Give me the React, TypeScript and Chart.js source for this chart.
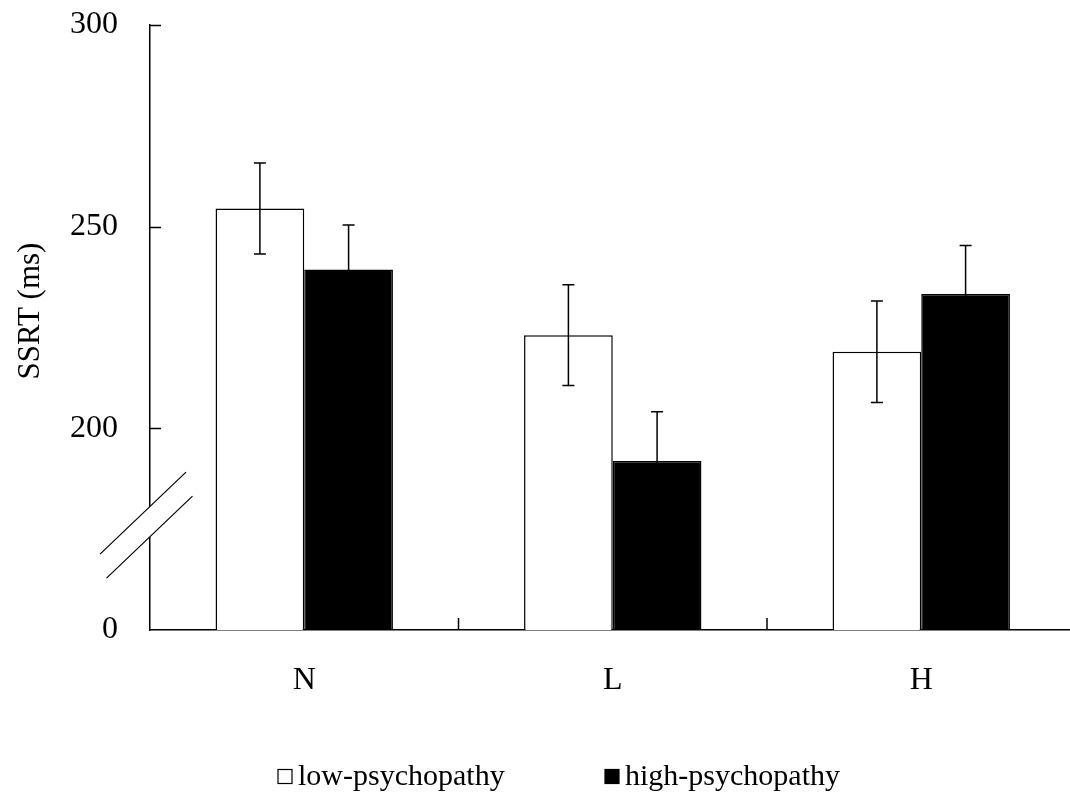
import React, { useEffect, useRef } from "react";
import { Chart, registerables } from "chart.js";

Chart.register(...registerables);

// ---- data ----
const categories = ["N", "L", "H"];
const seriesLabels = ["low-psychopathy", "high-psychopathy"];
const lowValues = [254.5, 223.1, 219.0];
const highValues = [239.4, 191.9, 233.3];
const lowErrors = [11.3, 12.5, 12.6];
const highErrors = [11.0, 12.2, 12.0];
const yTickValues = [150, 200, 250, 300];
const yTickLabels = ["0", "200", "250", "300"];
const yAxisTitle = "SSRT (ms)";
const breakValue = 176;

const FONT = "'Liberation Serif', 'Times New Roman', serif";

const errorBarPlugin = {
  id: "errorBars",
  afterDatasetsDraw(chart: any) {
    const ctx = chart.ctx;
    const y = chart.scales.y;
    const errs = [lowErrors, highErrors];
    ctx.save();
    ctx.strokeStyle = "#000";
    ctx.lineWidth = 1.5;
    chart.data.datasets.forEach((ds: any, di: number) => {
      const meta = chart.getDatasetMeta(di);
      meta.data.forEach((bar: any, i: number) => {
        const v = ds.data[i];
        const e = errs[di][i];
        const yt = y.getPixelForValue(v + e);
        const yb = y.getPixelForValue(v - e);
        const x = bar.x;
        ctx.beginPath();
        ctx.moveTo(x, yt);
        ctx.lineTo(x, yb);
        ctx.moveTo(x - 6, yt);
        ctx.lineTo(x + 6, yt);
        ctx.moveTo(x - 6, yb);
        ctx.lineTo(x + 6, yb);
        ctx.stroke();
      });
    });
    ctx.restore();
  },
};

const decorPlugin = {
  id: "decor",
  afterDraw(chart: any) {
    const ctx = chart.ctx;
    const area = chart.chartArea;
    const y = chart.scales.y;
    const x = chart.scales.x;
    ctx.save();
    ctx.strokeStyle = "#000";
    ctx.lineWidth = 1.5;
    // inward y ticks
    yTickValues.forEach((v) => {
      if (v === yTickValues[0]) return;
      const py = Math.round(y.getPixelForValue(v)) + 0.5;
      ctx.beginPath();
      ctx.moveTo(area.left, py);
      ctx.lineTo(area.left + 11, py);
      ctx.stroke();
    });
    // inward x ticks at category boundaries
    for (let i = 1; i < categories.length; i++) {
      const px = (x.getPixelForTick(i - 1) + x.getPixelForTick(i)) / 2;
      ctx.beginPath();
      ctx.moveTo(px, area.bottom);
      ctx.lineTo(px, area.bottom - 12);
      ctx.stroke();
    }
    // axis break marks
    const cy = y.getPixelForValue(breakValue);
    const cx = area.left;
    const dx = 43;
    const dy = 41;
    const off = 12;
    const x1 = cx - 7;
    const x2 = cx - 0.5;
    ctx.fillStyle = "#fff";
    ctx.beginPath();
    ctx.moveTo(x1 - dx, cy + dy - off);
    ctx.lineTo(x1 + dx, cy - dy - off);
    ctx.lineTo(x2 + dx, cy - dy + off);
    ctx.lineTo(x2 - dx, cy + dy + off);
    ctx.closePath();
    ctx.fill();
    ctx.lineWidth = 1.2;
    ctx.beginPath();
    ctx.moveTo(x1 - dx, cy + dy - off);
    ctx.lineTo(x1 + dx, cy - dy - off);
    ctx.moveTo(x2 - dx, cy + dy + off);
    ctx.lineTo(x2 + dx, cy - dy + off);
    ctx.stroke();

    // y axis title
    ctx.fillStyle = "#000";
    ctx.font = `31px ${FONT}`;
    ctx.textAlign = "center";
    ctx.textBaseline = "middle";
    ctx.translate(31, 311);
    ctx.rotate(-Math.PI / 2);
    ctx.fillText(yAxisTitle, 0, 0);
    ctx.restore();

    // legend
    ctx.save();
    ctx.font = `30px ${FONT}`;
    ctx.textBaseline = "alphabetic";
    ctx.textAlign = "left";
    const legendX = [278, 605];
    const legendBaseline = 785;
    chart.data.datasets.forEach((ds: any, i: number) => {
      const bx = legendX[i];
      ctx.fillStyle = ds.backgroundColor;
      ctx.fillRect(bx, 769.5, 14, 14);
      ctx.strokeStyle = "#000";
      ctx.lineWidth = 1.2;
      ctx.strokeRect(bx, 769.5, 14, 14);
      ctx.fillStyle = "#000";
      ctx.fillText(ds.label, bx + 20, legendBaseline);
    });
    ctx.restore();
  },
};

export default function App() {
  const canvasRef = useRef<HTMLCanvasElement | null>(null);

  useEffect(() => {
    if (!canvasRef.current) return;
    const chart = new Chart(canvasRef.current, {
      type: "bar",
      data: {
        labels: categories,
        datasets: [
          {
            label: seriesLabels[0],
            data: lowValues,
            backgroundColor: "#ffffff",
            borderColor: "#000000",
            borderWidth: 1.5,
            borderSkipped: "bottom",
          },
          {
            label: seriesLabels[1],
            data: highValues,
            backgroundColor: "#000000",
            borderColor: "#000000",
            borderWidth: 1.5,
            borderSkipped: "bottom",
          },
        ],
      },
      options: {
        animation: false,
        responsive: true,
        maintainAspectRatio: false,
        datasets: {
          bar: { barPercentage: 1, categoryPercentage: 0.575, base: 150 } as any,
        },
        layout: { padding: { top: 25, right: 4.5, left: 0, bottom: 0 }, autoPadding: false } as any,
        plugins: {
          legend: { display: false },
          tooltip: { enabled: false },
        },
        scales: {
          x: {
            offset: true,
            grid: { display: false, drawTicks: false },
            border: { display: true, color: "#000", width: 1.5 },
            ticks: {
              color: "#000",
              font: { family: FONT, size: 32 },
              padding: 31,
              maxRotation: 0,
            },
            afterFit(scale: any) {
              scale.height = 166;
              scale.paddingLeft = 0;
              scale.paddingRight = 0;
            },
          },
          y: {
            min: 150,
            max: 300,
            grid: { display: false, drawTicks: false },
            border: { display: true, color: "#000", width: 1.5 },
            afterBuildTicks(scale: any) {
              scale.ticks = yTickValues.map((v) => ({ value: v }));
            },
            ticks: {
              color: "#000",
              font: { family: FONT, size: 32 },
              padding: 32,
              callback: (value: any) => {
                const idx = yTickValues.indexOf(Number(value));
                return idx >= 0 ? yTickLabels[idx] : "";
              },
            },
            afterFit(scale: any) {
              scale.width = 150;
              scale.paddingTop = 0;
              scale.paddingBottom = 0;
            },
          },
        },
      },
      plugins: [errorBarPlugin, decorPlugin],
    });
    return () => chart.destroy();
  }, []);

  return (
    <div
      style={{
        position: "fixed",
        left: 0,
        top: 0,
        width: 1070,
        height: 796,
        overflow: "hidden",
        background: "#fff",
      }}
    >
      <div style={{ position: "relative", width: 1080, height: 796 }}>
        <canvas ref={canvasRef} />
      </div>
    </div>
  );
}
